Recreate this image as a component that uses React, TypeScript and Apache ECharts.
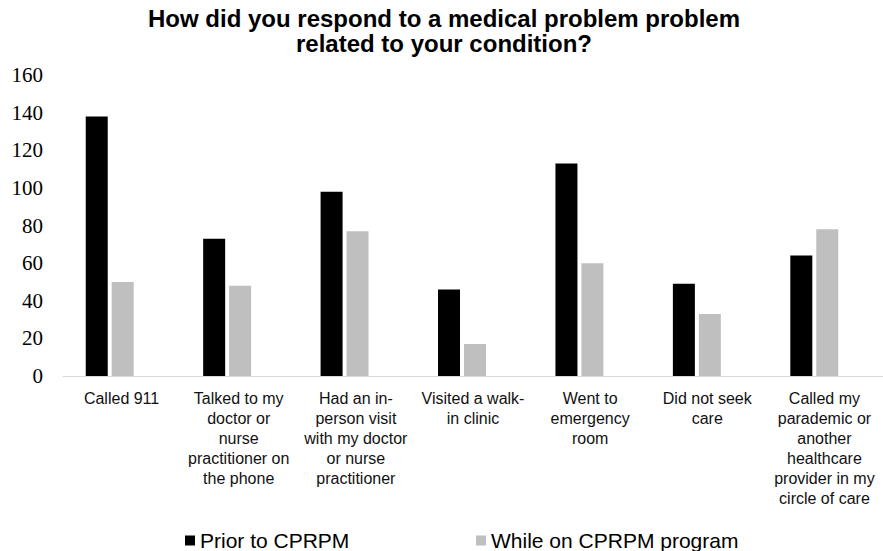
import React, { useEffect, useRef } from "react";
import * as echarts from "echarts";

const categories = [
  "Called 911",
  "Talked to my\ndoctor or\nnurse\npractitioner on\nthe phone",
  "Had an in-\nperson visit\nwith my doctor\nor nurse\npractitioner",
  "Visited a walk-\nin clinic",
  "Went to\nemergency\nroom",
  "Did not seek\ncare",
  "Called my\nparademic or\nanother\nhealthcare\nprovider in my\ncircle of care",
];

const priorValues = [138, 73, 98, 46, 113, 49, 64];
const whileValues = [50, 48, 77, 17, 60, 33, 78];

const seriesNames = ["Prior to CPRPM", "While on CPRPM program"];
const titleText =
  "How did you respond to a medical problem problem\nrelated to your condition?";

const SANS = "'Liberation Sans', Arial, sans-serif";
const SERIF = "'Liberation Serif', 'Times New Roman', serif";

const PLOT_TOP = 75;
const PLOT_BOTTOM = 175;

export default function App() {
  const ref = useRef<HTMLDivElement>(null);

  useEffect(() => {
    if (!ref.current) return;
    const chart = echarts.init(ref.current, null, { renderer: "svg" });
    chart.setOption({
      animation: false,
      backgroundColor: "#ffffff",
      title: {
        text: titleText,
        left: 444,
        textAlign: "center",
        top: 6,
        padding: 0,
        textStyle: {
          fontFamily: SANS,
          fontWeight: "bold",
          fontSize: 24,
          lineHeight: 25,
          color: "#000000",
        },
      },
      legend: [
        {
          data: [seriesNames[0]],
          left: 185,
          top: 530,
          padding: 0,
          icon: "rect",
          itemWidth: 10,
          itemHeight: 10,
          textStyle: { fontFamily: SANS, fontSize: 21, color: "#000000" },
        },
        {
          data: [seriesNames[1]],
          left: 476,
          top: 530,
          padding: 0,
          icon: "rect",
          itemWidth: 10,
          itemHeight: 10,
          textStyle: { fontFamily: SANS, fontSize: 21, color: "#000000" },
        },
      ],
      // grid 0 holds the bars and value axis; grid 1 carries the
      // category axis line and its wrapped labels
      grid: [
        { left: 51, right: 10, top: PLOT_TOP, bottom: PLOT_BOTTOM },
        { left: 63, right: 0, top: PLOT_TOP, bottom: PLOT_BOTTOM },
      ],
      xAxis: [
        {
          type: "category",
          gridIndex: 0,
          data: categories,
          axisTick: { show: false },
          axisLine: { show: false },
          axisLabel: { show: false },
        },
        {
          type: "category",
          gridIndex: 1,
          data: categories,
          axisTick: { show: false },
          axisLine: { lineStyle: { color: "#d9d9d9", width: 1 } },
          axisLabel: {
            interval: 0,
            margin: 12,
            fontFamily: SANS,
            fontSize: 16,
            lineHeight: 20,
            color: "#111111",
            align: "center",
            verticalAlign: "top",
          },
        },
      ],
      yAxis: [
        {
          type: "value",
          gridIndex: 0,
          min: 0,
          max: 160,
          interval: 20,
          splitLine: { show: false },
          axisLine: { show: false },
          axisTick: { show: false },
          axisLabel: {
            margin: 8,
            fontFamily: SERIF,
            fontSize: 21,
            color: "#000000",
          },
        },
        {
          type: "value",
          gridIndex: 1,
          min: 0,
          max: 160,
          interval: 20,
          show: false,
        },
      ],
      series: [
        {
          name: seriesNames[0],
          type: "bar",
          xAxisIndex: 0,
          yAxisIndex: 0,
          data: priorValues,
          barWidth: 22,
          barGap: "18%",
          itemStyle: { color: "#000000" },
        },
        {
          name: seriesNames[1],
          type: "bar",
          xAxisIndex: 0,
          yAxisIndex: 0,
          data: whileValues,
          barWidth: 22,
          itemStyle: { color: "#bfbfbf" },
        },
      ],
    });
    return () => chart.dispose();
  }, []);

  return (
    <div
      ref={ref}
      style={{ position: "fixed", left: 0, top: 0, width: 883, height: 551 }}
    />
  );
}
